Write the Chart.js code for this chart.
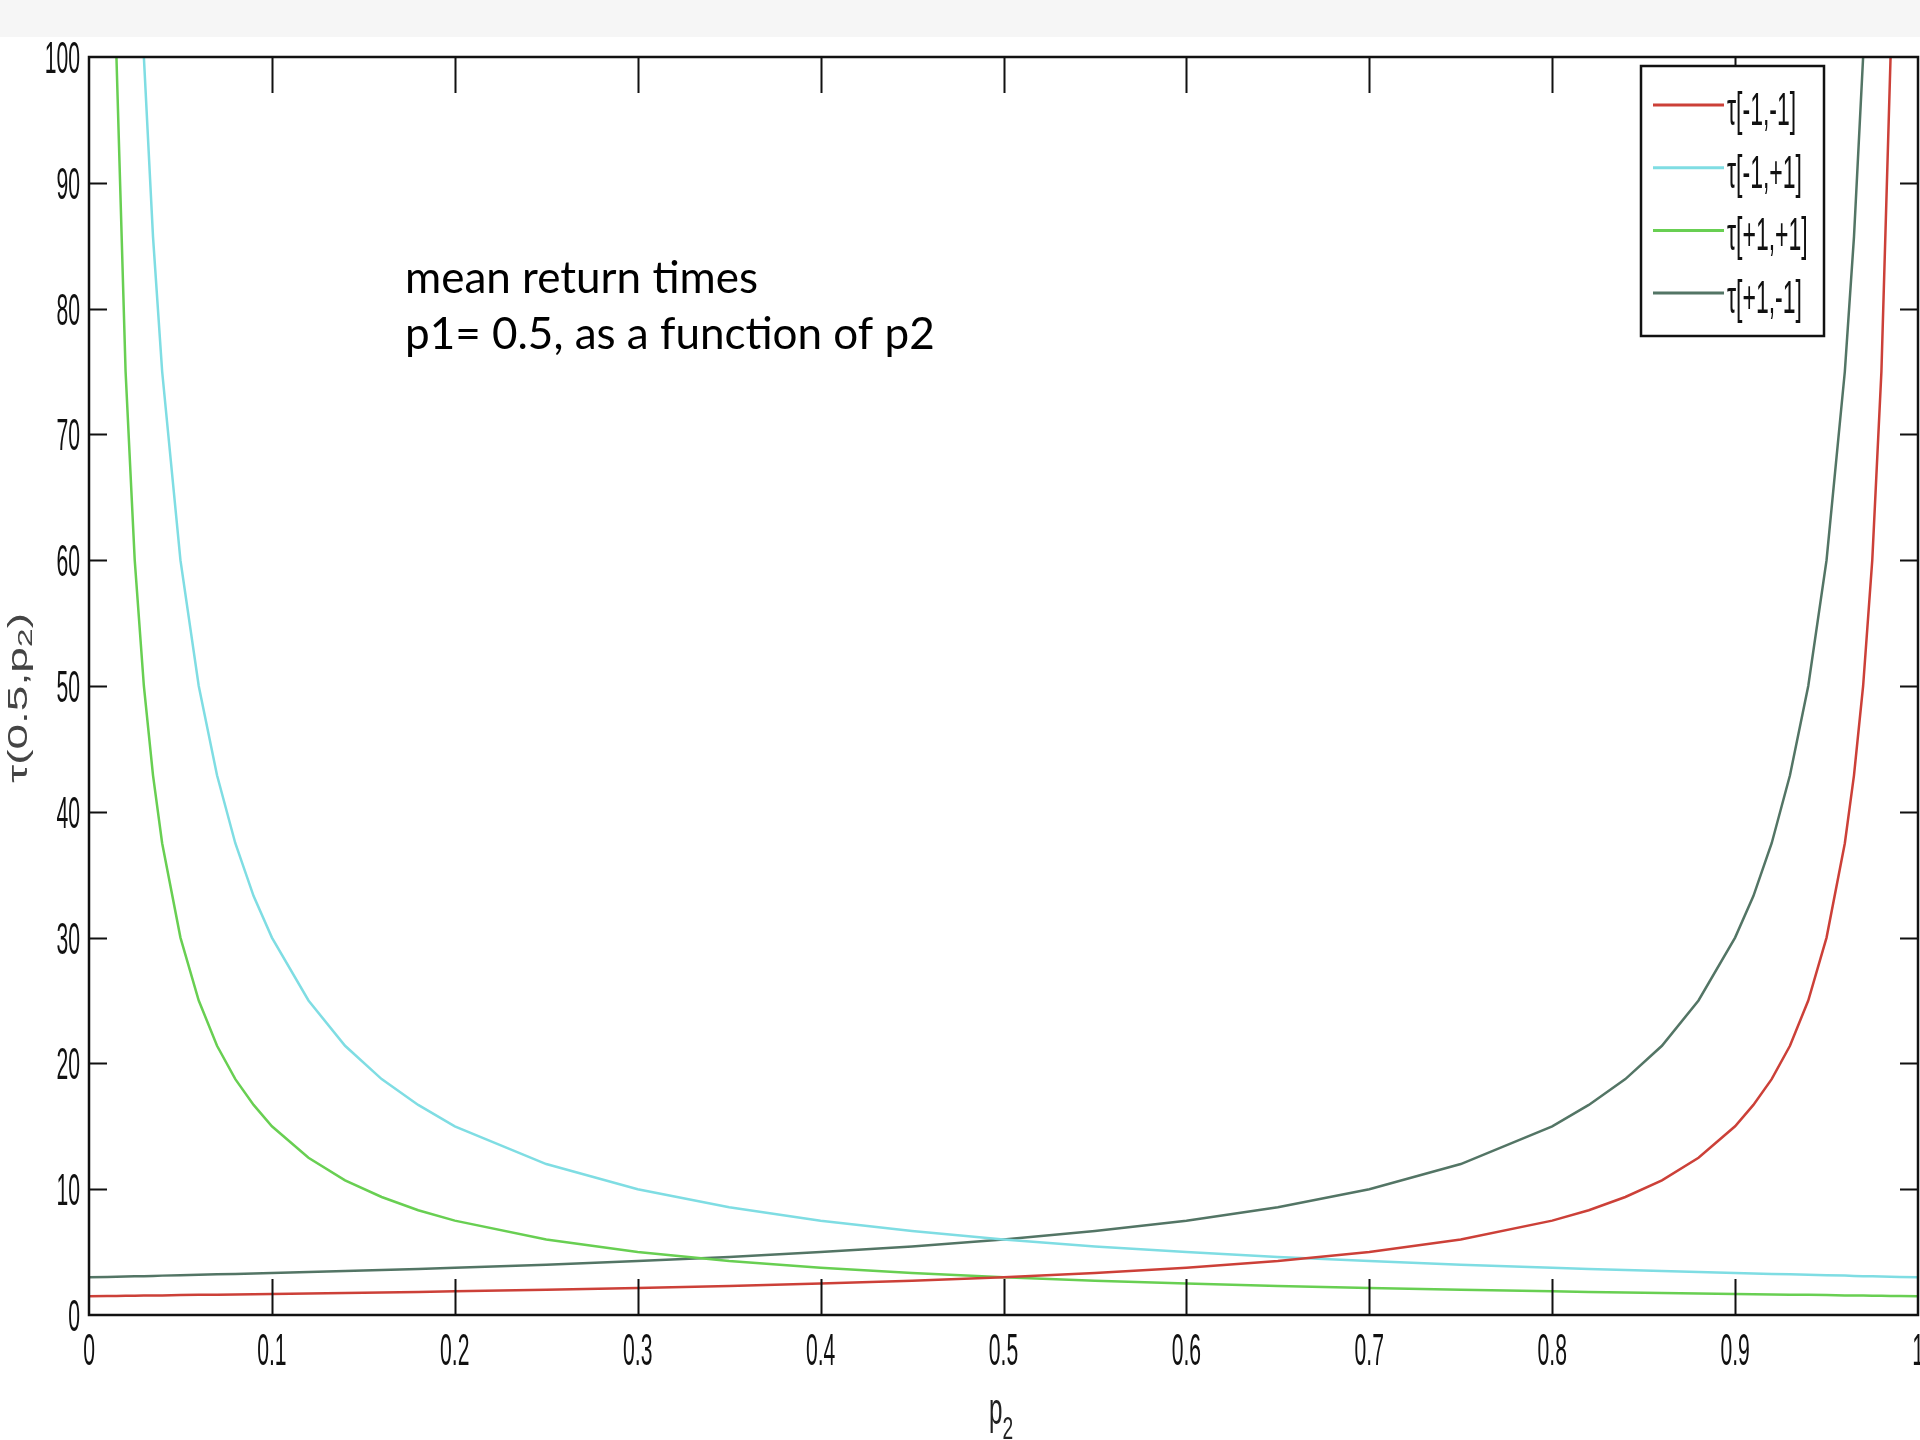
<!DOCTYPE html>
<html>
<head>
<meta charset="utf-8">
<title>mean return times</title>
<script src="https://cdn.jsdelivr.net/npm/chart.js@4.4.1/dist/chart.umd.min.js"></script>
<style>
  html, body { margin: 0; padding: 0; background: #fff; }
  #wrap { width: 1920px; height: 1440px; position: relative; }
</style>
</head>
<body>
<div id="wrap"><canvas id="returnTimes"></canvas></div>
<script>
// p2 sample positions and the four mean return time curves (p1 = 0.5)
const p2 = [0, 0.01, 0.015, 0.02, 0.025, 0.03, 0.035, 0.04, 0.05, 0.06, 0.07, 0.08, 0.09,
  0.1, 0.12, 0.14, 0.16, 0.18, 0.2, 0.25, 0.3, 0.35, 0.4, 0.45, 0.5, 0.55, 0.6, 0.65,
  0.7, 0.75, 0.8, 0.82, 0.84, 0.86, 0.88, 0.9, 0.91, 0.92, 0.93, 0.94, 0.95, 0.96,
  0.965, 0.97, 0.975, 0.98, 0.985, 0.99, 1];

const tauMM = [1.5, 1.52, 1.52, 1.53, 1.54, 1.55, 1.55, 1.56, 1.58, 1.6, 1.61, 1.63, 1.65,
  1.67, 1.7, 1.74, 1.79, 1.83, 1.88, 2, 2.14, 2.31, 2.5, 2.73, 3, 3.33, 3.75, 4.29,
  5, 6, 7.5, 8.33, 9.38, 10.7, 12.5, 15, 16.7, 18.75, 21.4, 25, 30, 37.5,
  42.9, 50, 60, 75, 100, 150, null];

const tauMP = [null, 300, 200, 150, 120, 100, 85.7, 75, 60, 50, 42.9, 37.5, 33.3,
  30, 25, 21.4, 18.75, 16.7, 15, 12, 10, 8.57, 7.5, 6.67, 6, 5.45, 5, 4.62,
  4.29, 4, 3.75, 3.66, 3.57, 3.49, 3.41, 3.33, 3.3, 3.26, 3.23, 3.19, 3.16, 3.13,
  3.11, 3.09, 3.08, 3.06, 3.05, 3.03, 3];

const tauPP = [null, 150, 100, 75, 60, 50, 42.9, 37.5, 30, 25, 21.4, 18.75, 16.7,
  15, 12.5, 10.7, 9.38, 8.33, 7.5, 6, 5, 4.29, 3.75, 3.33, 3, 2.73, 2.5, 2.31,
  2.14, 2, 1.88, 1.83, 1.79, 1.74, 1.7, 1.67, 1.65, 1.63, 1.61, 1.6, 1.58, 1.56,
  1.55, 1.55, 1.54, 1.53, 1.52, 1.52, 1.5];

const tauPM = [3, 3.03, 3.05, 3.06, 3.08, 3.09, 3.11, 3.13, 3.16, 3.19, 3.23, 3.26, 3.3,
  3.33, 3.41, 3.49, 3.57, 3.66, 3.75, 4, 4.29, 4.62, 5, 5.45, 6, 6.67, 7.5, 8.57,
  10, 12, 15, 16.7, 18.75, 21.4, 25, 30, 33.3, 37.5, 42.9, 50, 60, 75,
  85.7, 100, 120, 150, 200, 300, null];

const seriesNames = ["τ[-1,-1]", "τ[-1,+1]", "τ[+1,+1]", "τ[+1,-1]"];
const seriesColors = ["#cc4038", "#7fdde3", "#68cf52", "#537565"];

const xTicks = [0, 0.1, 0.2, 0.3, 0.4, 0.5, 0.6, 0.7, 0.8, 0.9, 1];
const xTickLabels = ["0", "0.1", "0.2", "0.3", "0.4", "0.5", "0.6", "0.7", "0.8", "0.9", "1"];
const yTicks = [0, 10, 20, 30, 40, 50, 60, 70, 80, 90, 100];
const yTickLabels = ["0", "10", "20", "30", "40", "50", "60", "70", "80", "90", "100"];

const noteLines = ["mean return times", "p1= 0.5, as a function of p2"];

function points(values) {
  return p2.map((x, i) => ({ x, y: values[i] }));
}

// matlab style text is squeezed sideways, so draw it with a horizontal scale
function narrowText(ctx, text, x, y, size, align, sx = 0.48) {
  ctx.save();
  ctx.translate(x, y);
  ctx.scale(sx, 1);
  ctx.font = `${size}px "Liberation Sans", Arial, sans-serif`;
  ctx.textAlign = align;
  ctx.fillText(text, 0, 0);
  ctx.restore();
}

const axesFrame = {
  id: "axesFrame",
  beforeDraw(chart) {
    const ctx = chart.ctx;
    ctx.save();
    ctx.fillStyle = "#f6f6f6";
    ctx.fillRect(0, 0, chart.width, 37);
    ctx.restore();
  },
  afterDatasetsDraw(chart) {
    const { ctx, chartArea: a, scales } = chart;
    const xs = scales.x, ys = scales.y;
    ctx.save();

    // box and inward ticks on all four sides
    ctx.strokeStyle = "#111";
    ctx.lineWidth = 2.5;
    ctx.strokeRect(a.left, a.top, a.right - a.left, a.bottom - a.top);
    ctx.lineWidth = 2;
    ctx.beginPath();
    xTicks.slice(1, -1).forEach((v) => {
      const px = Math.round(xs.getPixelForValue(v)) + 0.5;
      ctx.moveTo(px, a.bottom); ctx.lineTo(px, a.bottom - 36);
      ctx.moveTo(px, a.top); ctx.lineTo(px, a.top + 36);
    });
    yTicks.slice(1, -1).forEach((v) => {
      const py = Math.round(ys.getPixelForValue(v)) + 0.5;
      ctx.moveTo(a.left, py); ctx.lineTo(a.left + 18, py);
      ctx.moveTo(a.right, py); ctx.lineTo(a.right - 18, py);
    });
    ctx.stroke();

    // tick labels
    ctx.fillStyle = "#111";
    ctx.textBaseline = "alphabetic";
    xTicks.forEach((v, i) => {
      narrowText(ctx, xTickLabels[i], xs.getPixelForValue(v), a.bottom + 50, 44, "center");
    });
    yTicks.forEach((v, i) => {
      narrowText(ctx, yTickLabels[i], a.left - 9, ys.getPixelForValue(v) + 16, 44, "right");
    });

    // x axis title p2
    const cx = xs.getPixelForValue(0.5);
    ctx.fillStyle = "#222";
    narrowText(ctx, "p", cx - 1, 1424, 44, "right", 0.55);
    narrowText(ctx, "2", cx - 1, 1439, 32, "left", 0.6);

    // y axis title, rotated and squeezed across the glyphs
    ctx.save();
    ctx.translate(19, 698);
    ctx.rotate(-Math.PI / 2);
    ctx.scale(1, 0.62);
    ctx.fillStyle = "#444";
    ctx.textBaseline = "middle";
    const big = '46px "Liberation Sans", Arial, sans-serif';
    const small = '34px "Liberation Sans", Arial, sans-serif';
    const partA = "τ(0.5,p";
    ctx.font = big;
    const wA = ctx.measureText(partA).width;
    const wC = ctx.measureText(")").width;
    ctx.font = small;
    const wB = ctx.measureText("2").width;
    let tx = -(wA + wB + wC) / 2;
    ctx.textAlign = "left";
    ctx.font = big;
    ctx.fillText(partA, tx, 0);
    tx += wA;
    ctx.font = small;
    ctx.fillText("2", tx, 11);
    tx += wB;
    ctx.font = big;
    ctx.fillText(")", tx, 0);
    ctx.restore();

    // legend box
    const lx = 1641, ly = 66, lw = 183, lh = 270;
    ctx.fillStyle = "#fff";
    ctx.fillRect(lx, ly, lw, lh);
    ctx.strokeStyle = "#111";
    ctx.lineWidth = 2.5;
    ctx.strokeRect(lx, ly, lw, lh);
    seriesNames.forEach((name, i) => {
      const y = 105 + i * 62.7;
      ctx.strokeStyle = seriesColors[i];
      ctx.lineWidth = 3;
      ctx.beginPath();
      ctx.moveTo(1653, y); ctx.lineTo(1724, y);
      ctx.stroke();
      ctx.fillStyle = "#111";
      narrowText(ctx, name, 1727, y + 20, 46, "left", 0.5);
    });

    // annotation
    ctx.fillStyle = "#000";
    ctx.font = '44px Lato, "Open Sans", sans-serif';
    ctx.textAlign = "left";
    ctx.fillText(noteLines[0], 405, 293);
    ctx.fillText(noteLines[1], 405, 349);
    ctx.restore();
  }
};

new Chart(document.getElementById("returnTimes"), {
  type: "line",
  data: {
    datasets: [tauMM, tauMP, tauPP, tauPM].map((vals, i) => ({
      label: seriesNames[i],
      data: points(vals),
      borderColor: seriesColors[i],
      borderWidth: 2.5,
      pointRadius: 0,
      tension: 0,
      spanGaps: false,
    })),
  },
  options: {
    responsive: true,
    maintainAspectRatio: false,
    animation: false,
    layout: { padding: { left: 89, top: 57, right: 2, bottom: 125 } },
    scales: {
      x: { type: "linear", min: 0, max: 1, display: false },
      y: { type: "linear", min: 0, max: 100, display: false },
    },
    plugins: { legend: { display: false }, tooltip: { enabled: false } },
  },
  plugins: [axesFrame],
});
</script>
</body>
</html>
